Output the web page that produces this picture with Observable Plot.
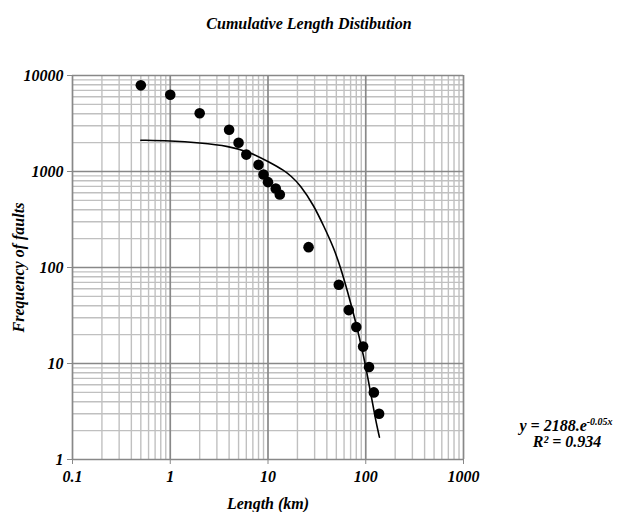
<!DOCTYPE html>
<html><head><meta charset="utf-8">
<script src="https://cdn.jsdelivr.net/npm/d3@7"></script>
<script src="https://cdn.jsdelivr.net/npm/@observablehq/plot@0.6"></script>
<style>body{margin:0;background:#fff}</style>
</head><body><div id="chart"></div>
<script>
const title = "Cumulative Length Distibution";
const xLabel = "Length (km)";
const yLabel = "Frequency of faults";
const lengthKm    = [0.5, 1, 2, 4, 5, 6, 8, 9, 10, 12, 13.2, 26, 53, 67, 80, 94, 108, 121, 137];
const faultCounts = [7900, 6300, 4050, 2720, 1990, 1500, 1175, 930, 775, 665, 575, 163, 66, 36, 24, 15, 9.2, 5, 3];
const trendLength = [0.5, 1, 2, 4, 6.6, 10.6, 14.5, 17, 21.5, 29.4, 37.2, 47.1, 55.2, 64.6, 77, 95.5, 112, 126, 138];
const trendCount  = [2118, 2090, 1990, 1837, 1590, 1230, 1030, 908, 720, 443, 270, 160, 100, 58, 30, 12, 5, 2.6, 1.71];
const xTicks = [0.1, 1, 10, 100, 1000];
const yTicks = [1, 10, 100, 1000, 10000];
const eqLine1 = "y = 2188.e";
const eqExp = "-0.05x";
const eqLine2 = "R² = 0.934";

const minorOf = (majors) => majors.slice(0, -1).flatMap(m => [2,3,4,5,6,7,8,9].map(k => m * k));
const xMinor = minorOf(xTicks);
const yMinor = minorOf(yTicks);

const points = lengthKm.map((x, i) => ({x, y: faultCounts[i]}));
const trend = trendLength.map((x, i) => ({x, y: trendCount[i]}));

const font = "'Liberation Serif', 'Times New Roman', serif";
const plot = Plot.plot({
  width: 617, height: 512,
  marginLeft: 72, marginRight: 154, marginTop: 75, marginBottom: 53,
  style: {fontFamily: font, fontWeight: "bold", fontStyle: "italic", color: "#000", background: "#fff"},
  x: {type: "log", domain: [0.1, 1000]},
  y: {type: "log", domain: [1, 10000]},
  marks: [
    Plot.ruleX(xMinor, {stroke: "#c0c0c0", strokeWidth: 1.4}),
    Plot.ruleY(yMinor, {stroke: "#c0c0c0", strokeWidth: 1.4}),
    Plot.ruleX(xTicks, {stroke: "#888888", strokeWidth: 1.7}),
    Plot.ruleY(yTicks, {stroke: "#888888", strokeWidth: 1.7}),
    Plot.axisX({ticks: xTicks, tickFormat: d => String(d), tickSize: 5, tickPadding: 6, fontSize: 16,
      fontWeight: "bold", stroke: "#888888", label: xLabel, labelAnchor: "center", labelArrow: "none", labelOffset: 49}),
    Plot.axisY({ticks: yTicks, tickFormat: d => String(d), tickSize: 5, tickPadding: 4, fontSize: 16,
      fontWeight: "bold", stroke: "#888888", label: yLabel, labelAnchor: "center", labelArrow: "none", labelOffset: 60}),
    Plot.line(trend, {x: "x", y: "y", curve: "basis", stroke: "#000", strokeWidth: 1.6}),
    Plot.dot(points, {x: "x", y: "y", r: 5.3, fill: "#000", stroke: "none"}),
    Plot.text([title], {frameAnchor: "top", dx: 41, dy: -58, fontSize: 16, fontWeight: "bold", fill: "#000"})
  ]
});
document.getElementById("chart").append(plot);

// trendline equation
const eq = d3.select(plot).append("text")
  .attr("text-anchor", "middle")
  .attr("font-size", 16)
  .attr("font-weight", "bold")
  .attr("fill", "#000");
const t1 = eq.append("tspan").attr("x", 566).attr("y", 431);
t1.append("tspan").text(eqLine1);
t1.append("tspan").attr("dy", -6).attr("font-size", 10).text(eqExp);
eq.append("tspan").attr("x", 567).attr("y", 447).text(eqLine2);
</script>
</body></html>
